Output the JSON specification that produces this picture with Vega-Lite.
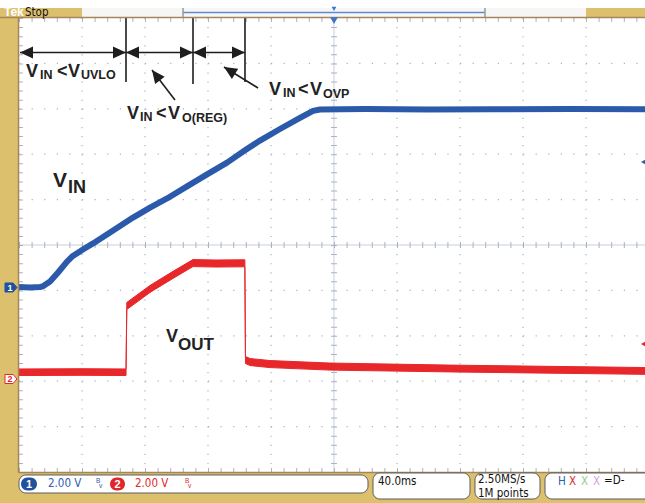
{
  "$schema": "https://vega.github.io/schema/vega-lite/v6.json",
  "width": 645,
  "height": 503,
  "padding": 0,
  "autosize": {"type": "none"},
  "background": "#ffffff",
  "config": {"view": {"stroke": null}},
  "datasets": {
    "gridH": [
      {"t": -200, "t2": 200, "d": 4}, {"t": -200, "t2": 200, "d": 3}, {"t": -200, "t2": 200, "d": 2}, {"t": -200, "t2": 200, "d": 1},
      {"t": -200, "t2": 200, "d": -1}, {"t": -200, "t2": 200, "d": -2}, {"t": -200, "t2": 200, "d": -3}, {"t": -200, "t2": 200, "d": -4}
    ],
    "gridV": [
      {"t": -160, "d": 5, "d2": -5}, {"t": -120, "d": 5, "d2": -5}, {"t": -80, "d": 5, "d2": -5}, {"t": -40, "d": 5, "d2": -5},
      {"t": 40, "d": 5, "d2": -5}, {"t": 80, "d": 5, "d2": -5}, {"t": 120, "d": 5, "d2": -5}, {"t": 160, "d": 5, "d2": -5}
    ],
    "ch1": [
      {"t": -200, "v": 0.0}, {"t": -193.0, "v": -0.02}, {"t": -186.7, "v": 0.0}, {"t": -184.8, "v": 0.03},
      {"t": -180.3, "v": 0.24}, {"t": -175.2, "v": 0.64}, {"t": -169.5, "v": 1.12}, {"t": -166.3, "v": 1.34},
      {"t": -159.4, "v": 1.65}, {"t": -153.0, "v": 1.92}, {"t": -142.2, "v": 2.40}, {"t": -127.6, "v": 3.06},
      {"t": -116.8, "v": 3.50}, {"t": -106.0, "v": 3.90}, {"t": -93.3, "v": 4.43}, {"t": -80.6, "v": 4.96},
      {"t": -67.9, "v": 5.48}, {"t": -56.5, "v": 6.02}, {"t": -47.0, "v": 6.45}, {"t": -34.3, "v": 6.96},
      {"t": -21.6, "v": 7.45}, {"t": -13.3, "v": 7.76}, {"t": -8.9, "v": 7.82}, {"t": 20, "v": 7.84},
      {"t": 60, "v": 7.82}, {"t": 100, "v": 7.83}, {"t": 150, "v": 7.84}, {"t": 200, "v": 7.83}
    ],
    "ch2": [
      {"t": -200, "lo": 0.02, "hi": 0.31}, {"t": -160, "lo": 0.03, "hi": 0.32}, {"t": -132.06, "lo": 0.02, "hi": 0.31},
      {"t": -131.55, "lo": 2.93, "hi": 3.24}, {"t": -116.83, "lo": 3.68, "hi": 3.99}, {"t": -102.22, "lo": 4.30, "hi": 4.61},
      {"t": -89.52, "lo": 4.82, "hi": 5.13}, {"t": -75, "lo": 4.80, "hi": 5.11}, {"t": -56.6, "lo": 4.81, "hi": 5.12},
      {"t": -56.2, "lo": 0.55, "hi": 0.86}, {"t": -53.33, "lo": 0.46, "hi": 0.77}, {"t": -40.63, "lo": 0.37, "hi": 0.68},
      {"t": -2.54, "lo": 0.26, "hi": 0.57}, {"t": 73.65, "lo": 0.18, "hi": 0.48}, {"t": 200, "lo": 0.07, "hi": 0.37}
    ],
    "segs": [
      {"t": -132.06, "t2": -132.06, "d": 5.0, "d2": 3.59},
      {"t": -89.52, "t2": -89.52, "d": 5.0, "d2": 3.546},
      {"t": -56.51, "t2": -56.51, "d": 5.0, "d2": 3.59},
      {"t": -199.37, "t2": -132.06, "d": 4.24, "d2": 4.24},
      {"t": -132.06, "t2": -89.52, "d": 4.24, "d2": 4.24},
      {"t": -89.52, "t2": -56.51, "d": 4.24, "d2": 4.24},
      {"t": -100.95, "t2": -115.56, "d": 3.194, "d2": 3.855},
      {"t": -48.25, "t2": -69.84, "d": 3.458, "d2": 3.921}
    ],
    "heads": [
      {"t": -199.37, "d": 4.24, "ang": 270}, {"t": -132.06, "d": 4.24, "ang": 90},
      {"t": -132.06, "d": 4.24, "ang": 270}, {"t": -89.52, "d": 4.24, "ang": 90},
      {"t": -89.52, "d": 4.24, "ang": 270}, {"t": -56.51, "d": 4.24, "ang": 90},
      {"t": -115.56, "d": 3.855, "ang": 322.5}, {"t": -69.84, "d": 3.921, "ang": 301.7}
    ],
    "labels": [
      {"t": -195.56, "d": 3.7004, "txt": "V", "role": "main"},
      {"t": -186.67, "d": 3.6564, "txt": "IN", "role": "sub"},
      {"t": -175.87, "d": 3.7004, "txt": "<", "role": "main"},
      {"t": -168.89, "d": 3.7004, "txt": "V", "role": "main"},
      {"t": -160.63, "d": 3.6564, "txt": "UVLO", "role": "sub"},
      {"t": -131.43, "d": 2.7643, "txt": "V", "role": "main"},
      {"t": -123.17, "d": 2.7203, "txt": "IN", "role": "sub"},
      {"t": -113.02, "d": 2.7643, "txt": "<", "role": "main"},
      {"t": -105.40, "d": 2.7643, "txt": "V", "role": "main"},
      {"t": -96.51, "d": 2.7092, "txt": "O(REG)", "role": "sub"},
      {"t": -41.27, "d": 3.3040, "txt": "V", "role": "main"},
      {"t": -32.38, "d": 3.2599, "txt": "IN", "role": "sub"},
      {"t": -22.86, "d": 3.3040, "txt": "<", "role": "main"},
      {"t": -15.24, "d": 3.3040, "txt": "V", "role": "main"},
      {"t": -6.98, "d": 3.2379, "txt": "OVP", "role": "sub"},
      {"t": -178.41, "d": 1.2775, "txt": "V", "role": "big"},
      {"t": -168.89, "d": 1.1454, "txt": "IN", "role": "bigsub"},
      {"t": -106.67, "d": -2.1366, "txt": "V", "role": "out"},
      {"t": -99.05, "d": -2.3128, "txt": "OUT", "role": "outsub"}
    ],
    "panels": [
      {"t": -212.06, "t2": -160.0, "d": 5.022, "d2": 5.22, "part": "beige"},
      {"t": 160.0, "t2": 197.46, "d": 5.022, "d2": 5.22, "part": "beige"},
      {"t": -212.06, "t2": -200.63, "d": -5.683, "d2": 5.22, "part": "beige"},
      {"t": -212.06, "t2": 197.46, "d": -5.683, "d2": -5.0, "part": "beige"},
      {"t": -160.0, "t2": 160.0, "d": 5.022, "d2": 5.22, "part": "light"}
    ],
    "borders": [
      {"t": -212.06, "t2": 197.46, "d": 5.011, "d2": 5.011},
      {"t": -200.3, "t2": -200.3, "d": 5.011, "d2": -5.011},
      {"t": -200.3, "t2": 197.46, "d": -5.011, "d2": -5.011}
    ],
    "boxes": [
      {"t": -200.0, "t2": 21.59, "d": -5.066, "d2": -5.463},
      {"t": 24.76, "t2": 86.35, "d": -5.022, "d2": -5.595},
      {"t": 89.52, "t2": 130.79, "d": -5.022, "d2": -5.595},
      {"t": 133.97, "t2": 205, "d": -5.022, "d2": -5.595}
    ],
    "pills": [
      {"t": -198.73, "t2": -188.57, "d": -5.121, "d2": -5.407, "ch": "c1", "txt": "1", "tc": -193.65},
      {"t": -142.22, "t2": -132.70, "d": -5.121, "d2": -5.407, "ch": "c2", "txt": "2", "tc": -137.46}
    ],
    "status": [
      {"t": -181.59, "d": -5.341, "txt": "2.00 V", "grp": "c1"},
      {"t": -126.35, "d": -5.341, "txt": "2.00 V", "grp": "c2"},
      {"t": 27.94, "d": -5.286, "txt": "40.0ms", "grp": "k"},
      {"t": 91.43, "d": -5.242, "txt": "2.50MS/s", "grp": "k"},
      {"t": 91.43, "d": -5.540, "txt": "1M points", "grp": "k"},
      {"t": 142.22, "d": -5.286, "txt": "H", "grp": "c1"},
      {"t": 149.21, "d": -5.286, "txt": "X", "grp": "c2"},
      {"t": 156.83, "d": -5.286, "txt": "X", "grp": "g"},
      {"t": 164.44, "d": -5.286, "txt": "X", "grp": "p"},
      {"t": 171.43, "d": -5.264, "txt": "=D-", "grp": "k"}
    ],
    "bw": [
      {"t": -151.11, "d": -5.242, "txt": "B", "grp": "c1"},
      {"t": -149.21, "d": -5.352, "txt": "v", "grp": "c1"},
      {"t": -94.60, "d": -5.242, "txt": "B", "grp": "c2"},
      {"t": -92.70, "d": -5.352, "txt": "v", "grp": "c2"}
    ],
    "markers": [
      {"t": -205.08, "d": -0.9361, "ch": "c1", "txt": "1", "dt": -1.0132},
      {"t": -205.08, "d": -2.9515, "ch": "c2", "txt": "2", "dt": -3.0286}
    ]
  },
  "encoding": {
    "x": {"field": "t", "type": "quantitative", "scale": {"domain": [-212.06, 197.46], "nice": false, "zero": false}, "axis": null},
    "y": {"field": "d", "type": "quantitative", "scale": {"domain": [-5.683, 5.396], "nice": false, "zero": false}, "axis": null}
  },
  "layer": [
    {
      "data": {"name": "gridH"},
      "mark": {"type": "rule", "color": "#a9b3c2", "strokeWidth": 1.2, "strokeDash": [1.2, 11.4]},
      "encoding": {"x2": {"field": "t2"}}
    },
    {
      "data": {"name": "gridV"},
      "mark": {"type": "rule", "color": "#a9b3c2", "strokeWidth": 1.2, "strokeDash": [1.2, 7.88]},
      "encoding": {"y2": {"field": "d2"}}
    },
    {
      "data": {"values": [{"t": -200, "t2": 200, "d": 0, "d2": 0}, {"t": 0, "t2": 0, "d": 5, "d2": -5}]},
      "mark": {"type": "rule", "color": "#c9d1dd", "strokeWidth": 1},
      "encoding": {"x2": {"field": "t2"}, "y2": {"field": "d2"}}
    },
    {
      "data": {"values": [{"t": -200, "t2": 200, "d": 0}]},
      "mark": {"type": "rule", "color": "#a9b3c2", "strokeWidth": 6, "strokeDash": [1, 11.6]},
      "encoding": {"x2": {"field": "t2"}}
    },
    {
      "data": {"values": [{"t": 0, "d": 5, "d2": -5}]},
      "mark": {"type": "rule", "color": "#a9b3c2", "strokeWidth": 6, "strokeDash": [1, 8.08]},
      "encoding": {"y2": {"field": "d2"}}
    },
    {
      "data": {"values": [{"t": -200, "t2": 200, "d": 5}, {"t": -200, "t2": 200, "d": -5}]},
      "mark": {"type": "rule", "color": "#a9b3c2", "strokeWidth": 8, "strokeDash": [1, 11.6]},
      "encoding": {"x2": {"field": "t2"}}
    },
    {
      "data": {"values": [{"t": -200, "d": 5, "d2": -5}]},
      "mark": {"type": "rule", "color": "#a9b3c2", "strokeWidth": 8, "strokeDash": [1, 8.08]},
      "encoding": {"y2": {"field": "d2"}}
    },
    {
      "data": {"name": "ch2"},
      "mark": {"type": "area", "color": "#e8272b", "stroke": "#e8272b", "strokeWidth": 1, "opacity": 1},
      "encoding": {
        "y": {"field": "lo", "type": "quantitative", "scale": {"domain": [-5.595, 16.564], "nice": false, "zero": false}, "axis": null},
        "y2": {"field": "hi"}
      }
    },
    {
      "data": {"name": "ch1"},
      "mark": {"type": "line", "color": "#2b5aab", "strokeWidth": 6, "strokeJoin": "round"},
      "encoding": {
        "y": {"field": "v", "type": "quantitative", "scale": {"domain": [-9.515, 12.643], "nice": false, "zero": false}, "axis": null}
      }
    },
    {
      "data": {"name": "segs"},
      "mark": {"type": "rule", "color": "#1e1e1e", "strokeWidth": 1.6},
      "encoding": {"x2": {"field": "t2"}, "y2": {"field": "d2"}}
    },
    {
      "data": {"name": "heads"},
      "mark": {"type": "point", "shape": "M0,0 L-0.46,1 L0.46,1 Z", "size": 676, "filled": true, "color": "#1e1e1e", "opacity": 1},
      "encoding": {"angle": {"field": "ang", "type": "quantitative", "scale": null}}
    },
    {
      "data": {"name": "labels"},
      "transform": [{"filter": {"field": "role", "equal": "main"}}],
      "mark": {"type": "text", "font": "Liberation Sans", "fontWeight": "bold", "fontSize": 18, "align": "left", "baseline": "alphabetic", "color": "#222222"},
      "encoding": {"text": {"field": "txt"}}
    },
    {
      "data": {"name": "labels"},
      "transform": [{"filter": {"field": "role", "equal": "sub"}}],
      "mark": {"type": "text", "font": "Liberation Sans", "fontWeight": "bold", "fontSize": 12.5, "align": "left", "baseline": "alphabetic", "color": "#222222"},
      "encoding": {"text": {"field": "txt"}}
    },
    {
      "data": {"name": "labels"},
      "transform": [{"filter": {"field": "role", "equal": "big"}}],
      "mark": {"type": "text", "font": "Liberation Sans", "fontWeight": "bold", "fontSize": 21, "align": "left", "baseline": "alphabetic", "color": "#222222"},
      "encoding": {"text": {"field": "txt"}}
    },
    {
      "data": {"name": "labels"},
      "transform": [{"filter": {"field": "role", "equal": "bigsub"}}],
      "mark": {"type": "text", "font": "Liberation Sans", "fontWeight": "bold", "fontSize": 18, "align": "left", "baseline": "alphabetic", "color": "#222222"},
      "encoding": {"text": {"field": "txt"}}
    },
    {
      "data": {"name": "labels"},
      "transform": [{"filter": {"field": "role", "equal": "out"}}],
      "mark": {"type": "text", "font": "Liberation Sans", "fontWeight": "bold", "fontSize": 18, "align": "left", "baseline": "alphabetic", "color": "#222222"},
      "encoding": {"text": {"field": "txt"}}
    },
    {
      "data": {"name": "labels"},
      "transform": [{"filter": {"field": "role", "equal": "outsub"}}],
      "mark": {"type": "text", "font": "Liberation Sans", "fontWeight": "bold", "fontSize": 17, "align": "left", "baseline": "alphabetic", "color": "#222222"},
      "encoding": {"text": {"field": "txt"}}
    },
    {
      "data": {"name": "panels"},
      "mark": {"type": "rect"},
      "encoding": {
        "x2": {"field": "t2"}, "y2": {"field": "d2"},
        "color": {"field": "part", "type": "nominal", "scale": {"domain": ["beige", "light"], "range": ["#dcc06d", "#f6f6f4"]}, "legend": null}
      }
    },
    {
      "data": {"name": "borders"},
      "mark": {"type": "rule", "color": "#a5865a", "strokeWidth": 1.5},
      "encoding": {"x2": {"field": "t2"}, "y2": {"field": "d2"}}
    },
    {
      "data": {"name": "boxes"},
      "mark": {"type": "rect", "fill": "#ffffff", "stroke": "#5c5c5c", "strokeWidth": 1, "cornerRadius": 7},
      "encoding": {"x2": {"field": "t2"}, "y2": {"field": "d2"}}
    },
    {
      "data": {"name": "pills"},
      "mark": {"type": "rect", "cornerRadius": 6.5},
      "encoding": {
        "x2": {"field": "t2"}, "y2": {"field": "d2"},
        "color": {"field": "ch", "type": "nominal", "scale": {"domain": ["c1", "c2"], "range": ["#22509f", "#e2272c"]}, "legend": null}
      }
    },
    {
      "data": {"name": "pills"},
      "mark": {"type": "text", "font": "Liberation Sans", "fontWeight": "bold", "fontSize": 11, "align": "center", "baseline": "alphabetic", "color": "#ffffff"},
      "encoding": {"x": {"field": "tc", "type": "quantitative"}, "y": {"datum": -5.352, "type": "quantitative", "scale": {"domain": [-5.683, 5.396], "nice": false, "zero": false}}, "text": {"field": "txt"}}
    },
    {
      "data": {"name": "status"},
      "mark": {"type": "text", "font": "Liberation Sans Narrow, DejaVu Sans Condensed, Liberation Sans", "fontSize": 11.5, "align": "left", "baseline": "alphabetic"},
      "encoding": {
        "text": {"field": "txt"},
        "color": {"field": "grp", "type": "nominal", "scale": {"domain": ["c1", "c2", "k", "g", "p"], "range": ["#2c5db5", "#e2272c", "#111111", "#8fcf8f", "#d7a2e0"]}, "legend": null}
      }
    },
    {
      "data": {"name": "bw"},
      "mark": {"type": "text", "font": "Liberation Sans", "fontSize": 6.5, "align": "left", "baseline": "alphabetic"},
      "encoding": {
        "text": {"field": "txt"},
        "color": {"field": "grp", "type": "nominal", "scale": {"domain": ["c1", "c2"], "range": ["#2c5db5", "#e2272c"]}, "legend": null}
      }
    },
    {
      "data": {"values": [{"t": -95.87, "t2": 95.87, "d": 5.121, "d2": 5.121}]},
      "mark": {"type": "rule", "color": "#5f8ad2", "strokeWidth": 1.5},
      "encoding": {"x2": {"field": "t2"}, "y2": {"field": "d2"}}
    },
    {
      "data": {"values": [{"t": -95.87, "t2": -95.87, "d": 5.22, "d2": 5.022}, {"t": 95.87, "t2": 95.87, "d": 5.22, "d2": 5.022}]},
      "mark": {"type": "rule", "color": "#9a9a9a", "strokeWidth": 1.5},
      "encoding": {"x2": {"field": "t2"}, "y2": {"field": "d2"}}
    },
    {
      "data": {"values": [{"t": 0, "d": 5.2}]},
      "mark": {"type": "point", "shape": "triangle-down", "size": 22, "filled": true, "color": "#3d74cc", "opacity": 1}
    },
    {
      "data": {"values": [{"t": 0, "d": 4.94}]},
      "mark": {"type": "point", "shape": "triangle-down", "size": 60, "filled": true, "color": "#3d74cc", "opacity": 1}
    },
    {
      "data": {"values": [{"t": -209.52, "d": 5.033, "txt": "Tek"}]},
      "mark": {"type": "text", "font": "Liberation Sans", "fontWeight": "bold", "fontSize": 12, "align": "left", "baseline": "alphabetic", "color": "#ffffff"},
      "encoding": {"text": {"field": "txt"}}
    },
    {
      "data": {"values": [{"t": -196.19, "d": 5.044, "txt": "Stop"}]},
      "mark": {"type": "text", "font": "Liberation Sans Narrow, DejaVu Sans Condensed, Liberation Sans", "fontSize": 11.5, "align": "left", "baseline": "alphabetic", "color": "#111111"},
      "encoding": {"text": {"field": "txt"}}
    },
    {
      "data": {"name": "markers"},
      "mark": {"type": "point", "shape": "M-1,-0.75 L0.35,-0.75 L1,0 L0.35,0.75 L-1,0.75 Z", "size": 144, "strokeWidth": 1, "opacity": 1},
      "encoding": {
        "fill": {"field": "ch", "type": "nominal", "scale": {"domain": ["c1", "c2"], "range": ["#22509f", "#ffffff"]}, "legend": null},
        "stroke": {"field": "ch", "type": "nominal", "scale": {"domain": ["c1", "c2"], "range": ["#22509f", "#e2272c"]}, "legend": null}
      }
    },
    {
      "data": {"name": "markers"},
      "mark": {"type": "text", "font": "Liberation Sans", "fontWeight": "bold", "fontSize": 9, "align": "center", "baseline": "alphabetic", "dx": -1},
      "encoding": {
        "y": {"field": "dt", "type": "quantitative", "scale": {"domain": [-5.683, 5.396], "nice": false, "zero": false}},
        "text": {"field": "txt"},
        "color": {"field": "ch", "type": "nominal", "scale": {"domain": ["c1", "c2"], "range": ["#ffffff", "#e2272c"]}, "legend": null}
      }
    },
    {
      "data": {"values": [{"t": 196.19, "d": 1.828, "ch": "c1"}, {"t": 196.19, "d": -2.181, "ch": "c2"}]},
      "mark": {"type": "point", "shape": "triangle-left", "size": 22, "filled": true, "opacity": 1},
      "encoding": {
        "color": {"field": "ch", "type": "nominal", "scale": {"domain": ["c1", "c2"], "range": ["#2c5db5", "#e2272c"]}, "legend": null}
      }
    }
  ],
  "resolve": {"scale": {"y": "independent", "color": "independent", "fill": "independent", "stroke": "independent"}}
}
